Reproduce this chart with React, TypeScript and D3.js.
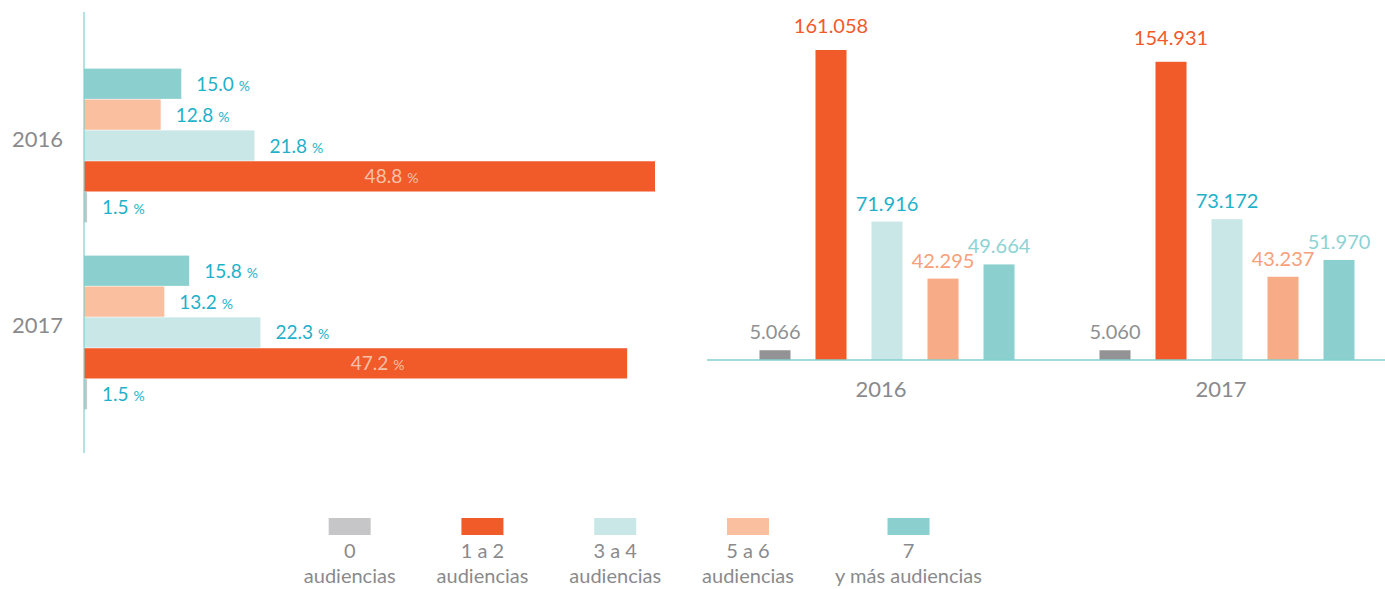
import React from 'react';
import * as d3 from 'd3';

// Data
const years = ['2016', '2017'];
const categories = ['0', '1 a 2', '3 a 4', '5 a 6', '7'];
const legendSecondLine = ['audiencias', 'audiencias', 'audiencias', 'audiencias', 'y más audiencias'];
const share2016 = [1.5, 48.8, 21.8, 12.8, 15.0];
const share2017 = [1.5, 47.2, 22.3, 13.2, 15.8];
const count2016 = [5066, 161058, 71916, 42295, 49664];
const count2017 = [5060, 154931, 73172, 43237, 51970];

const barColors = ['#c6c6c8', '#f15a29', '#c9e7e6', '#f9bf9f', '#8bd0cf'];
const columnColors = ['#939396', '#f15a29', '#c9e7e6', '#f7ab86', '#8bd0cf'];
const countLabelColors = ['#8f8f92', '#f15a29', '#1fb1c9', '#f7a07a', '#8dd3d3'];

const W = 1385;
const H = 589;
const FONT = 'Lato, "Open Sans", sans-serif';
const GREY_TEXT = '#8a8a8d';
const CYAN = '#1fb1c9';
const AXIS = '#7fd0cf';

const shares = [share2016, share2017];
const counts = [count2016, count2017];

const locale = d3.formatLocale({ decimal: ',', thousands: '.', grouping: [3], currency: ['', ''] });
const fmtCount = locale.format(',d');

function measure(text: string, size: number) {
  const ctx = document.createElement('canvas').getContext('2d');
  if (!ctx) return text.length * size * 0.5;
  ctx.font = `${size}px ${FONT}`;
  return ctx.measureText(text).width;
}

export default function App() {
  // ---- left: horizontal bars (shares) ----
  const axisX = 84;
  const y0 = d3.scaleBand().domain(years).range([52, 426]).paddingInner(0.171).paddingOuter(0.0856);
  const order = categories.slice().reverse();
  const y1 = d3.scaleBand().domain(order).range([0, y0.bandwidth()]).padding(0.02);
  // bar lengths in the source grow faster than linear, so a pow scale fits them
  const xShare = d3
    .scalePow()
    .exponent(1.5)
    .domain([0, d3.max([...share2016, ...share2017]) as number])
    .range([0, 571]);

  // ---- right: columns (counts) ----
  const base = 360;
  const gx = d3.scaleBand().domain(years).range([717, 1397]);
  const ix = d3.scaleBand().domain(categories).range([30, 310]).paddingInner(0.446).paddingOuter(0.223);
  const yCount = d3.scaleLinear().domain([0, d3.max(count2016) as number]).range([base, 50]);

  // ---- legend layout ----
  const legendSize = 20;
  const widths = categories.map((c, i) => Math.max(measure(c, legendSize), measure(legendSecondLine[i], legendSize)));
  const gap = 41;
  const total = d3.sum(widths) + gap * (widths.length - 1);
  let cursor = 643 - total / 2;
  const legendCenters = widths.map((w) => {
    const c = cursor + w / 2;
    cursor += w + gap;
    return c;
  });

  return (
    <svg width={W} height={H} style={{ position: 'absolute', left: 0, top: 0, fontFamily: FONT }}>
      <rect width={W} height={H} fill="#fff" />

      {/* left chart */}
      {years.map((yr, yi) => {
        const top = y0(yr) as number;
        return (
          <g key={yr} transform={`translate(0,${top})`}>
            <text x={axisX - 21} y={y0.bandwidth() / 2 + 1} textAnchor="end" fontSize={22} fill={GREY_TEXT}>
              {yr}
            </text>
            {categories.map((c, ci) => {
              const v = shares[yi][ci];
              const w = xShare(v);
              const by = y1(c) as number;
              const bh = y1.bandwidth();
              const inside = ci === 1;
              return (
                <g key={c}>
                  <rect x={axisX} y={by} width={w} height={bh} fill={barColors[ci]} />
                  <text
                    x={inside ? axisX + w / 2 + 22 : axisX + w + 15}
                    y={by + bh / 2 + 7}
                    textAnchor={inside ? 'middle' : 'start'}
                    fontSize={19}
                    fill={inside ? '#f6c1a8' : CYAN}
                  >
                    {v.toFixed(1)}
                    <tspan fontSize={14} dx={5}>%</tspan>
                  </text>
                </g>
              );
            })}
          </g>
        );
      })}
      <line x1={axisX} x2={axisX} y1={12} y2={453} stroke={AXIS} strokeWidth={1.2} />

      {/* right chart */}
      {years.map((yr, yi) => {
        const gStart = gx(yr) as number;
        return (
          <g key={yr} transform={`translate(${gStart},0)`}>
            {categories.map((c, ci) => {
              const v = counts[yi][ci];
              const bx = ix(c) as number;
              const top = yCount(v);
              return (
                <g key={c}>
                  <rect x={bx} y={top} width={ix.bandwidth()} height={base - top} fill={columnColors[ci]} />
                  <text
                    x={bx + ix.bandwidth() / 2}
                    y={top - (ci === 1 ? 17 : 11)}
                    textAnchor="middle"
                    fontSize={20}
                    fill={countLabelColors[ci]}
                  >
                    {fmtCount(v)}
                  </text>
                </g>
              );
            })}
            <text x={gx.bandwidth() / 2 - 6} y={397} textAnchor="middle" fontSize={22} fill={GREY_TEXT}>
              {yr}
            </text>
          </g>
        );
      })}
      <line x1={707} x2={W} y1={base} y2={base} stroke={AXIS} strokeWidth={1.5} />

      {/* legend */}
      {categories.map((c, i) => (
        <g key={c} transform={`translate(${legendCenters[i]},0)`}>
          <rect x={-21} y={518} width={42} height={17} fill={barColors[i]} />
          <text y={558} textAnchor="middle" fontSize={legendSize} fill={GREY_TEXT}>
            {c}
          </text>
          <text y={583} textAnchor="middle" fontSize={legendSize} fill={GREY_TEXT}>
            {legendSecondLine[i]}
          </text>
        </g>
      ))}
    </svg>
  );
}
